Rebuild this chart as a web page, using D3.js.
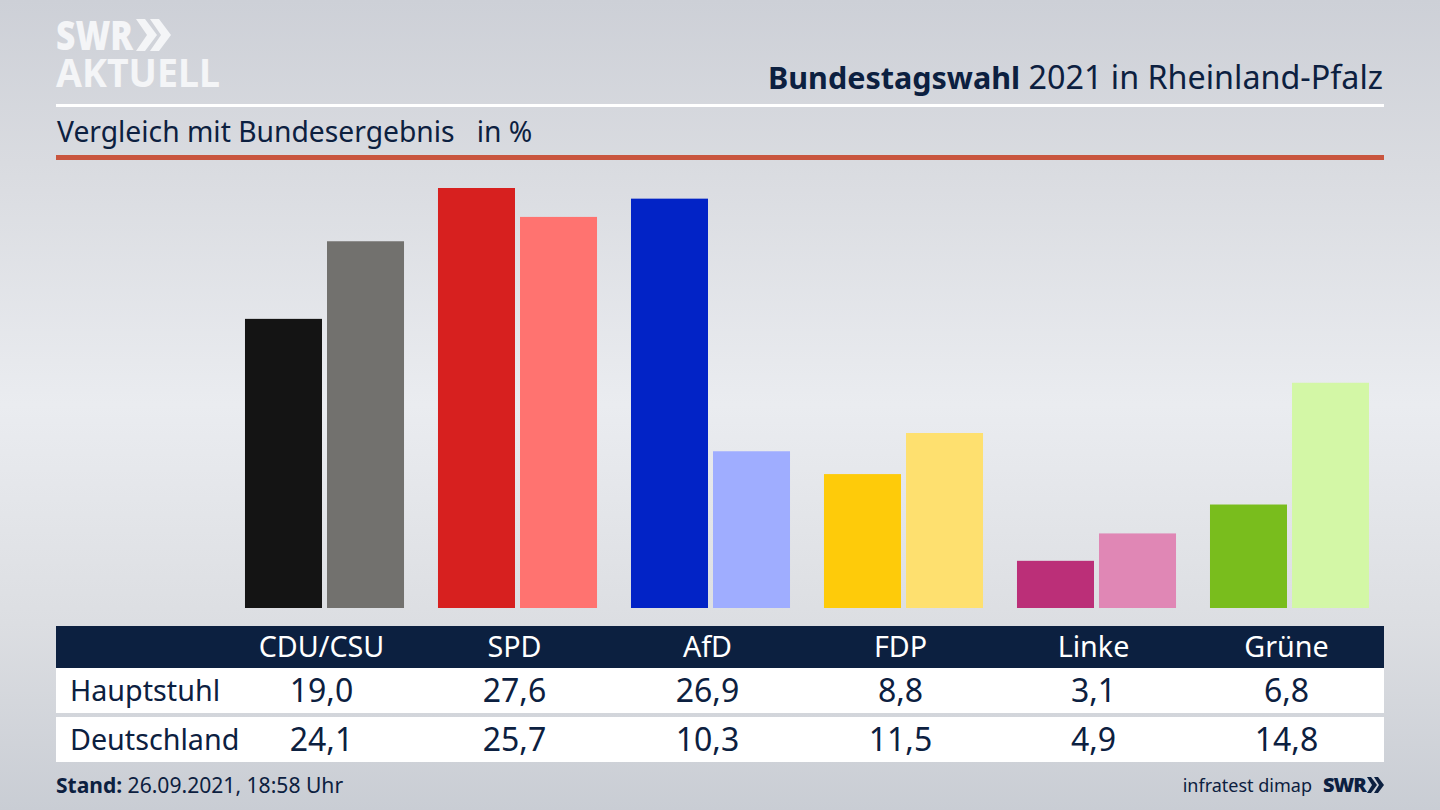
<!DOCTYPE html>
<html>
<head>
<meta charset="utf-8">
<script src="https://cdn.jsdelivr.net/npm/d3@7"></script>
<style>
html, body { margin: 0; padding: 0; background: #d5d8de; }
svg { display: block; }
text { font-family: "Noto Sans", sans-serif; fill: #0c2040; }
</style>
</head>
<body>
<div id="canvas"></div>
<script>
//Data
var parties = ["CDU/CSU", "SPD", "AfD", "FDP", "Linke", "Grüne"];
var regions = ["Hauptstuhl", "Deutschland"];
var hauptstuhl = [19.0, 27.6, 26.9, 8.8, 3.1, 6.8];
var deutschland = [24.1, 25.7, 10.3, 11.5, 4.9, 14.8];
var colorsDark = ["#141414", "#d7201f", "#0223c6", "#fecb0a", "#bb2f78", "#79bd1d"];
var colorsLight = ["#72716e", "#ff7370", "#9fadff", "#fee06f", "#e087b5", "#d3f7a6"];

var width = 1440;
var height = 810;
var navy = "#0c2040";
var logoWhite = "#f4f5f7";

var svg = d3.select("#canvas").append("svg")
    .attr("width", width)
    .attr("height", height);

//Background
var defs = svg.append("defs");
var grad = defs.append("linearGradient")
    .attr("id", "bg")
    .attr("x1", 0).attr("y1", 0).attr("x2", 0).attr("y2", 1);
grad.append("stop").attr("offset", "0%").attr("stop-color", "#cdd0d7");
grad.append("stop").attr("offset", "20%").attr("stop-color", "#d9dbe0");
grad.append("stop").attr("offset", "50%").attr("stop-color", "#eaecf0");
grad.append("stop").attr("offset", "77%").attr("stop-color", "#dcdee2");
grad.append("stop").attr("offset", "100%").attr("stop-color", "#c9cdd4");
svg.append("rect")
    .attr("width", width).attr("height", height)
    .attr("fill", "url(#bg)");

//Logo
svg.append("text").attr("x", 56).attr("y", 50)
    .attr("textLength", 77).attr("lengthAdjust", "spacingAndGlyphs")
    .style("font-size", "41px").style("font-weight", 900)
    .style("fill", logoWhite)
    .text("SWR");
svg.append("text").attr("x", 56).attr("y", 87)
    .attr("textLength", 164).attr("lengthAdjust", "spacingAndGlyphs")
    .style("font-size", "40px").style("font-weight", 700)
    .style("fill", logoWhite)
    .text("AKTUELL");
var bigChevron = "M0,0 L9,0 L21,16 L9,32 L0,32 L11,16 Z";
svg.append("path").attr("d", bigChevron).attr("fill", logoWhite)
    .attr("transform", "translate(136,19)");
svg.append("path").attr("d", bigChevron).attr("fill", logoWhite)
    .attr("transform", "translate(150,19)");

//Header
var title = svg.append("text")
    .attr("x", 1383).attr("y", 89)
    .attr("text-anchor", "end");
title.append("tspan").style("font-weight", 700).style("font-size", "30.5px").text("Bundestagswahl");
title.append("tspan").style("font-size", "32.3px").text(" 2021 in Rheinland-Pfalz");

svg.append("rect").attr("x", 56).attr("y", 104)
    .attr("width", 1328).attr("height", 3).attr("fill", "#ffffff");

svg.append("text").attr("x", 57).attr("y", 142)
    .style("font-size", "28.25px")
    .style("white-space", "pre")
    .text("Vergleich mit Bundesergebnis   in %");

svg.append("rect").attr("x", 56).attr("y", 155)
    .attr("width", 1328).attr("height", 5).attr("fill", "#c9553e");

//Scales
var x0 = d3.scaleBand()
    .domain(parties)
    .range([228, 1386])
    .paddingInner(0.176)
    .paddingOuter(0.088);
var x1 = d3.scaleBand()
    .domain(regions)
    .range([0, x0.bandwidth()])
    .paddingInner(0.061);
var y = d3.scaleLinear()
    .domain([0, 27.6])
    .range([608, 188]);

//Bars
var groups = svg.selectAll("g.party")
    .data(parties)
    .enter().append("g")
    .attr("class", "party")
    .attr("transform", function(d){ return "translate(" + x0(d) + ",0)"; });

groups.append("rect")
    .attr("x", x1(regions[0]))
    .attr("y", function(d, i){ return y(hauptstuhl[i]); })
    .attr("width", x1.bandwidth())
    .attr("height", function(d, i){ return y(0) - y(hauptstuhl[i]); })
    .attr("fill", function(d, i){ return colorsDark[i]; });

groups.append("rect")
    .attr("x", x1(regions[1]))
    .attr("y", function(d, i){ return y(deutschland[i]); })
    .attr("width", x1.bandwidth())
    .attr("height", function(d, i){ return y(0) - y(deutschland[i]); })
    .attr("fill", function(d, i){ return colorsLight[i]; });

//Table
svg.append("rect").attr("x", 56).attr("y", 626)
    .attr("width", 1328).attr("height", 42).attr("fill", navy);
svg.append("rect").attr("x", 56).attr("y", 668)
    .attr("width", 1328).attr("height", 45).attr("fill", "#ffffff");
svg.append("rect").attr("x", 56).attr("y", 717)
    .attr("width", 1328).attr("height", 45).attr("fill", "#ffffff");

//Table text sits a little left of the bar groups
function center(d){ return x0(d) + x0.bandwidth() / 2 - 3; }
function fmt(v){ return v.toFixed(1).replace(".", ","); }

svg.selectAll("text.head")
    .data(parties)
    .enter().append("text")
    .attr("class", "head")
    .attr("x", center)
    .attr("y", 657)
    .attr("text-anchor", "middle")
    .style("font-size", "28.7px")
    .style("fill", "#ffffff")
    .text(function(d){ return d; });

var rowY = [701, 750];
[hauptstuhl, deutschland].forEach(function(values, r){
    svg.append("text").attr("x", 70).attr("y", rowY[r])
        .style("font-size", "28.7px")
        .text(regions[r]);
    svg.selectAll("text.row" + r)
        .data(values)
        .enter().append("text")
        .attr("class", "row" + r)
        .attr("x", function(d, i){ return center(parties[i]); })
        .attr("y", rowY[r] + 1)
        .attr("text-anchor", "middle")
        .style("font-size", "32px")
        .text(function(d){ return fmt(d); });
});

//Footer
var stand = svg.append("text").attr("x", 56).attr("y", 793);
stand.append("tspan").style("font-weight", 700).style("font-size", "21px").text("Stand:");
stand.append("tspan").style("font-size", "21.1px").text(" 26.09.2021, 18:58 Uhr");

svg.append("text").attr("x", 1312).attr("y", 792)
    .attr("text-anchor", "end")
    .style("font-size", "18px")
    .text("infratest dimap");
svg.append("text").attr("x", 1323).attr("y", 792)
    .style("font-size", "20px").style("font-weight", 900)
    .style("letter-spacing", "-1px")
    .text("SWR");
var smallChevron = "M0,0 L4,0 L10,8 L4,16 L0,16 L5,8 Z";
svg.append("path").attr("d", smallChevron).attr("fill", navy)
    .attr("transform", "translate(1367,777)");
svg.append("path").attr("d", smallChevron).attr("fill", navy)
    .attr("transform", "translate(1374,777)");
</script>
</body>
</html>
